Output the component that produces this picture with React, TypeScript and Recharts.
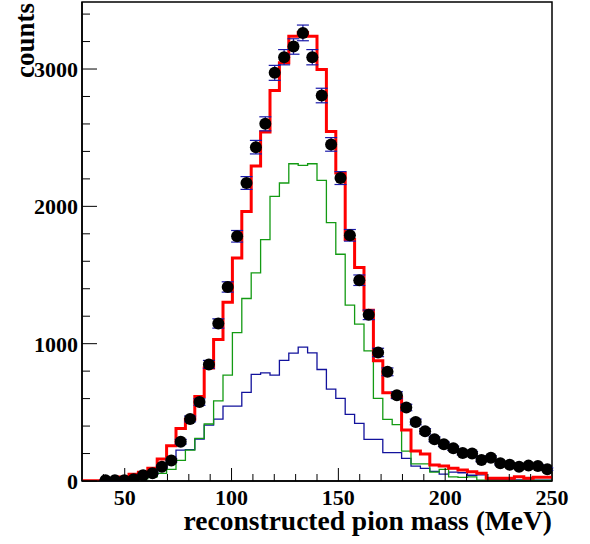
import { ComposedChart, Line, Scatter, ErrorBar, XAxis, YAxis, ReferenceArea } from "recharts";

// 50 bins of 4.4 MeV from 30 to 250 MeV
const BIN_START = 30;
const BIN_WIDTH = 4.4;
const X_MIN = 30;
const X_MAX = 250;
const Y_MAX = 3488;

const redFit = [
  2, 2, 3, 8, 30, 49, 63, 92, 160, 256,
  383, 450, 615, 822, 1030, 1302, 1624, 1963, 2293, 2541,
  2844, 3045, 3239, 3265, 3239, 2996, 2545, 2242, 1758, 1554,
  1244, 876, 643, 609, 371, 218, 197, 116, 109, 92,
  80, 68, 56, 20, 20, 20, 31, 20, 27, 27,
];

const greenComp = [
  0, 0, 0, 0, 0, 8, 15, 30, 55, 85,
  150, 225, 310, 415, 584, 771, 1080, 1329, 1515, 1758,
  2073, 2170, 2310, 2298, 2310, 2189, 1881, 1651, 1280, 1142,
  948, 601, 449, 410, 218, 124, 124, 65, 85, 30,
  27, 30, 6, 5, 5, 5, 5, 5, 5, 5,
];

const blueComp = [
  0, 0, 0, 0, 3, 15, 25, 45, 95, 165,
  225, 228, 305, 407, 450, 545, 545, 645, 777, 788,
  771, 879, 931, 975, 933, 812, 669, 601, 485, 419,
  303, 303, 206, 206, 165, 109, 92, 70, 50, 64,
  60, 42, 44, 12, 10, 10, 8, 8, 6, 6,
];

// measured counts, bins 0 and 1 are empty
const measured = [
  null, null, 5, 5, 6, 12, 42, 56, 104, 150,
  286, 452, 575, 849, 1147, 1413, 1782, 2170, 2431, 2601,
  2972, 3086, 3164, 3263, 3086, 2807, 2451, 2206, 1789, 1462,
  1210, 936, 795, 625, 535, 430, 362, 304, 267, 238,
  204, 201, 153, 170, 129, 118, 104, 112, 109, 86,
];

const xTicks = [40, 50, 60, 70, 80, 90, 100, 110, 120, 130, 140, 150, 160, 170, 180, 190, 200, 210, 220, 230, 240, 250];
const yTicks = [0, 200, 400, 600, 800, 1000, 1200, 1400, 1600, 1800, 2000, 2200, 2400, 2600, 2800, 3000, 3200, 3400];

const histData = redFit.map((r, i) => ({
  x: BIN_START + i * BIN_WIDTH,
  red: r,
  green: greenComp[i],
  blue: blueComp[i],
}));
histData.push({
  x: BIN_START + redFit.length * BIN_WIDTH,
  red: redFit[redFit.length - 1],
  green: greenComp[greenComp.length - 1],
  blue: blueComp[blueComp.length - 1],
});

const pointData = measured
  .map((v, i) => (v === null ? null : { x: BIN_START + (i + 0.5) * BIN_WIDTH, y: v, err: Math.sqrt(v) }))
  .filter(Boolean);

const FONT = "'Liberation Serif', 'Times New Roman', serif";
const TICK_MARGIN = 4;

function YTick(props: any) {
  const { x, y, payload } = props;
  const axisX = x + TICK_MARGIN;
  const major = payload.value % 1000 === 0;
  return (
    <g>
      <line x1={axisX} x2={axisX + (major ? 15 : 8)} y1={y} y2={y} stroke="#000" strokeWidth={1} />
      {major ? (
        <text x={x} y={y} dy={8} textAnchor="end" fontFamily={FONT} fontWeight="bold" fontSize={22} fill="#000">
          {payload.value}
        </text>
      ) : null}
    </g>
  );
}

function XTick(props: any) {
  const { x, y, payload } = props;
  const axisY = y - TICK_MARGIN;
  const major = payload.value % 50 === 0;
  return (
    <g>
      <line x1={x} x2={x} y1={axisY} y2={axisY - (major ? 13 : 7)} stroke="#000" strokeWidth={1} />
      {major ? (
        <text x={x} y={y} dy={20} textAnchor="middle" fontFamily={FONT} fontWeight="bold" fontSize={22} fill="#000">
          {payload.value}
        </text>
      ) : null}
    </g>
  );
}

function XTitle(props: any) {
  const { viewBox } = props;
  return (
    <text
      x={viewBox.x + viewBox.width}
      y={viewBox.y + 49}
      textAnchor="end"
      fontFamily={FONT}
      fontWeight="bold"
      fontSize={27.5}
      fill="#000"
    >
      reconstructed pion mass (MeV)
    </text>
  );
}

function YTitle(props: any) {
  const { viewBox } = props;
  const bx = viewBox.x + 34;
  const by = viewBox.y + 1;
  return (
    <text
      x={bx}
      y={by}
      transform={`rotate(-90, ${bx}, ${by})`}
      textAnchor="end"
      fontFamily={FONT}
      fontWeight="bold"
      fontSize={27}
      fill="#000"
    >
      counts
    </text>
  );
}

const renderDot = (p: any) => <circle cx={p.cx} cy={p.cy} r={6} fill="#000" />;

export default function App() {
  return (
    <div style={{ position: "absolute", left: 0, top: 0, background: "#fff" }}>
      <ComposedChart width={590} height={544} margin={{ top: 2, right: 38, bottom: 0, left: 0 }}>
        <XAxis
          type="number"
          dataKey="x"
          domain={[X_MIN, X_MAX]}
          ticks={xTicks}
          interval={0}
          tickSize={0}
          tickMargin={TICK_MARGIN}
          height={63}
          allowDataOverflow
          axisLine={{ stroke: "#000", strokeWidth: 1.5 }}
          tick={XTick}
          label={{ content: XTitle }}
        />
        <YAxis
          type="number"
          domain={[0, Y_MAX]}
          ticks={yTicks}
          interval={0}
          tickSize={0}
          tickMargin={TICK_MARGIN}
          width={82}
          allowDataOverflow
          axisLine={{ stroke: "#000", strokeWidth: 1.5 }}
          tick={YTick}
          label={{ content: YTitle }}
        />
        <ReferenceArea
          x1={X_MIN}
          x2={X_MAX}
          y1={0}
          y2={Y_MAX}
          fill="none"
          fillOpacity={0}
          stroke="#000"
          strokeWidth={1.5}
          ifOverflow="visible"
        />
        <Line data={histData} dataKey="blue" type="stepAfter" stroke="#12129c" strokeWidth={1.3} dot={false} isAnimationActive={false} />
        <Line data={histData} dataKey="green" type="stepAfter" stroke="#139a13" strokeWidth={1.3} dot={false} isAnimationActive={false} />
        <Line data={histData} dataKey="red" type="stepAfter" stroke="#ff0000" strokeWidth={3} dot={false} isAnimationActive={false} />
        <Scatter data={pointData} dataKey="y" shape={renderDot} isAnimationActive={false}>
          <ErrorBar dataKey="err" direction="y" width={6} stroke="#1a1aaa" strokeWidth={1.2} isAnimationActive={false} />
        </Scatter>
      </ComposedChart>
    </div>
  );
}
